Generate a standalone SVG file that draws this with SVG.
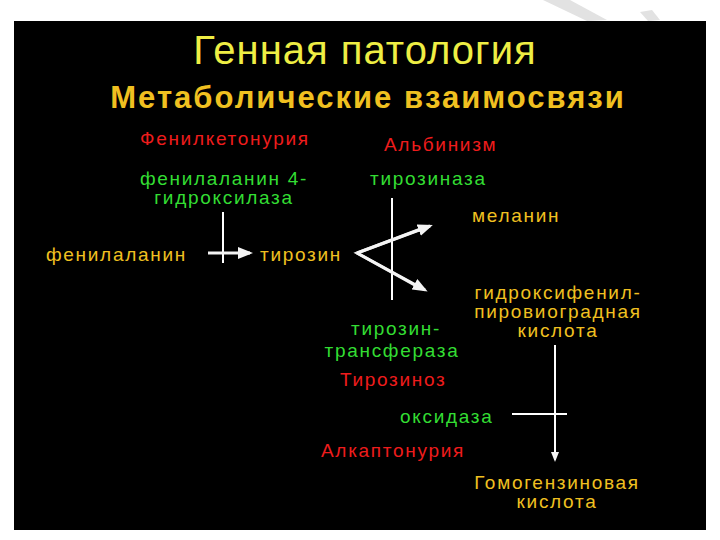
<svg xmlns="http://www.w3.org/2000/svg" width="720" height="540" viewBox="0 0 720 540">
<style>
text{font-family:"Liberation Sans",Arial,sans-serif;font-size:19px;letter-spacing:1.7px}
.y{fill:#f0c020}.g{fill:#33dd33}.r{fill:#ee1c1c}
.ln{stroke:#fff;stroke-width:2;fill:none}
.ar{stroke:#f4f4f4;stroke-width:3;fill:none;marker-end:url(#h)}
</style>
<defs><marker id="h" markerWidth="5" markerHeight="4" refX="4" refY="2" orient="auto" markerUnits="strokeWidth"><path d="M0,0L5,2L0,4z" fill="#f4f4f4"/></marker></defs>
<rect width="720" height="540" fill="#fff"/>
<polygon points="543,0 570,0 607,20 587,21" fill="#e2e2e2"/>
<polygon points="640,12 652,10 660,20 648,21" fill="#e2e2e2"/>
<rect x="14" y="21" width="692" height="509" fill="#000"/>
<text x="365" y="64" text-anchor="middle" style="font-size:40px;letter-spacing:1px;fill:#eeee44">Генная патология</text>
<text x="368" y="108" text-anchor="middle" style="font-size:31px;letter-spacing:2px;font-weight:bold;fill:#f0c020">Метаболические взаимосвязи</text>
<g id="connectors">
<line class="ln" x1="223" y1="212" x2="223" y2="263"/>
<line class="ar" x1="208" y1="253" x2="250" y2="253"/>
<line class="ln" x1="392" y1="198" x2="392" y2="300"/>
<polyline points="426,227 357,253 420,288" stroke="#e8e8e8" stroke-width="3" fill="none"/>
<line class="ar" x1="357" y1="253" x2="430" y2="226"/>
<line class="ar" x1="357" y1="253" x2="425" y2="290"/>
<line class="ln" x1="512" y1="414" x2="567" y2="414"/>
<line x1="555" y1="345" x2="555" y2="460" stroke="#fff" stroke-width="2" marker-end="url(#h)"/>
</g>
<g id="n1"><text x="140" y="145" class="r">Фенилкетонурия</text></g>
<g id="n2"><text x="384" y="151" class="r">Альбинизм</text></g>
<g id="n3"><text x="224" y="185" text-anchor="middle" class="g">фенилаланин 4-</text><text x="224" y="204" text-anchor="middle" class="g">гидроксилаза</text></g>
<g id="n4"><text x="370" y="185" class="g">тирозиназа</text></g>
<g id="n5"><text x="472" y="222" class="y">меланин</text></g>
<g id="n6"><text x="46" y="261" class="y">фенилаланин</text></g>
<g id="n7"><text x="260" y="261" class="y">тирозин</text></g>
<g id="n8"><text x="558" y="299" text-anchor="middle" class="y">гидроксифенил-</text><text x="558" y="318" text-anchor="middle" class="y">пировиоградная</text><text x="558" y="337" text-anchor="middle" class="y">кислота</text></g>
<g id="n9"><text x="396" y="335" text-anchor="middle" class="g">тирозин-</text><text x="392" y="357" text-anchor="middle" class="g">трансфераза</text></g>
<g id="n10"><text x="340" y="386" class="r">Тирозиноз</text></g>
<g id="n11"><text x="400" y="423" class="g">оксидаза</text></g>
<g id="n12"><text x="321" y="457" class="r">Алкаптонурия</text></g>
<g id="n13"><text x="557" y="489" text-anchor="middle" class="y">Гомогензиновая</text><text x="557" y="508" text-anchor="middle" class="y">кислота</text></g>
</svg>
